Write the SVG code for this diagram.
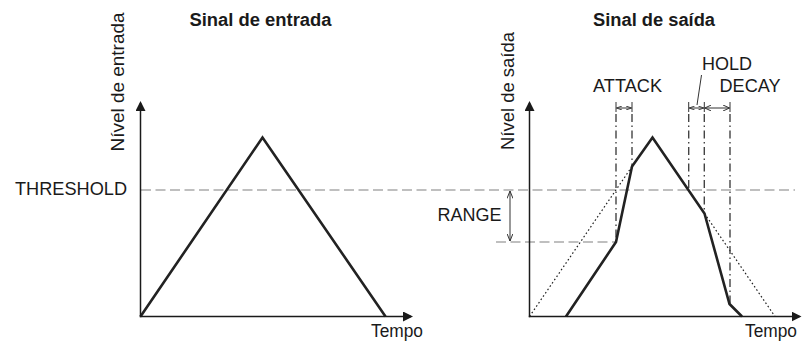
<svg xmlns="http://www.w3.org/2000/svg" width="805" height="342" viewBox="0 0 805 342">
<style>
text{font-family:"Liberation Sans",Arial,sans-serif;font-size:17.5px;fill:#1a1a1a}
.title{font-weight:bold}
.axis{stroke:#1a1a1a;stroke-width:1.5;fill:none}
.sig{stroke:#222;stroke-width:2.6;fill:none;stroke-linejoin:miter}
.dot{stroke:#222;stroke-width:1.2;fill:none;stroke-dasharray:1.6,2.4}
.thr{stroke:#aaa;stroke-width:1.5;fill:none;stroke-dasharray:10,4.5}
.dd{stroke:#444;stroke-width:1.4;fill:none;stroke-dasharray:8,3.5,1.5,3.5}
.thin{stroke:#333;stroke-width:1;fill:none}
</style>
<defs>
<marker id="ah" viewBox="0 0 10 10" refX="8" refY="5" markerWidth="10" markerHeight="10" markerUnits="userSpaceOnUse" orient="auto"><path d="M0,0 L10,5 L0,10 z" fill="#1a1a1a"/></marker>
<marker id="oa" viewBox="0 0 8 6" refX="7.5" refY="3" markerWidth="8" markerHeight="6" markerUnits="userSpaceOnUse" orient="auto-start-reverse"><path d="M0,0 L7.5,3 L0,6" fill="none" stroke="#333" stroke-width="1"/></marker>
<marker id="oas" viewBox="0 0 6 4" refX="5.5" refY="2" markerWidth="6" markerHeight="4" markerUnits="userSpaceOnUse" orient="auto-start-reverse"><path d="M0,0 L5.5,2 L0,4" fill="none" stroke="#333" stroke-width="0.9"/></marker>
<marker id="oam" viewBox="0 0 7 6" refX="6.5" refY="3" markerWidth="7" markerHeight="6" markerUnits="userSpaceOnUse" orient="auto-start-reverse"><path d="M0,0 L6.5,3 L0,6" fill="none" stroke="#333" stroke-width="1"/></marker>
</defs>

<g id="threshold-line">
<line class="thr" x1="141" y1="190" x2="795" y2="190"/>
</g>

<g id="input-chart">
<text class="title" x="260.5" y="26" text-anchor="middle" textLength="142" lengthAdjust="spacingAndGlyphs">Sinal de entrada</text>
<text transform="translate(124,82) rotate(-90)" text-anchor="middle" textLength="139" lengthAdjust="spacingAndGlyphs">Nível de entrada</text>
<text x="15" y="195" textLength="112" lengthAdjust="spacingAndGlyphs">THRESHOLD</text>
<text x="371" y="337" textLength="52" lengthAdjust="spacingAndGlyphs">Tempo</text>
<polyline class="sig" points="140.5,316.5 262.5,137.5 385.5,316.5"/>
</g>

<g id="output-chart">
<text class="title" x="654" y="26" text-anchor="middle" textLength="122" lengthAdjust="spacingAndGlyphs">Sinal de saída</text>
<text transform="translate(513.5,91) rotate(-90)" text-anchor="middle" textLength="118" lengthAdjust="spacingAndGlyphs">Nível de saída</text>
<text x="745" y="337" textLength="52" lengthAdjust="spacingAndGlyphs">Tempo</text>
<text x="437.5" y="221" textLength="64" lengthAdjust="spacingAndGlyphs">RANGE</text>
<text x="593" y="91.5" textLength="69" lengthAdjust="spacingAndGlyphs">ATTACK</text>
<text x="702" y="70" textLength="50" lengthAdjust="spacingAndGlyphs">HOLD</text>
<text x="719.5" y="91.5" textLength="61" lengthAdjust="spacingAndGlyphs">DECAY</text>
<line class="thr" x1="496" y1="242" x2="616" y2="242"/>
<line class="dot" x1="529.5" y1="316.5" x2="632" y2="166.5"/>
<line class="dot" x1="704.5" y1="213.5" x2="775" y2="316.5"/>
<line class="dd" x1="616" y1="114" x2="616" y2="242"/>
<line class="dd" x1="632" y1="114" x2="632" y2="166"/>
<line class="dd" x1="688.7" y1="114" x2="688.7" y2="190"/>
<line class="dd" x1="704.3" y1="114" x2="704.3" y2="213"/>
<line class="dd" x1="730" y1="114" x2="730" y2="304"/>
<polyline class="sig" points="566,316.5 616,242 632,166.5 652.5,137.5 704.5,213.5 729.5,304 742,316.5"/>
</g>

<g id="connectors">
<line class="axis" x1="140.5" y1="317.2" x2="140.5" y2="103" marker-end="url(#ah)"/>
<line class="axis" x1="139.8" y1="316.5" x2="411" y2="316.5" marker-end="url(#ah)"/>
<line class="axis" x1="529.5" y1="317.2" x2="529.5" y2="103" marker-end="url(#ah)"/>
<line class="axis" x1="528.8" y1="316.5" x2="799.5" y2="316.5" marker-end="url(#ah)"/>
<line class="thin" x1="510" y1="191" x2="510" y2="241" marker-start="url(#oa)" marker-end="url(#oa)"/>
<line class="thin" x1="616" y1="102" x2="616" y2="112"/>
<line class="thin" x1="632" y1="102" x2="632" y2="112"/>
<line class="thin" x1="688.7" y1="102" x2="688.7" y2="112"/>
<line class="thin" x1="704.3" y1="102" x2="704.3" y2="112"/>
<line class="thin" x1="730" y1="102" x2="730" y2="112"/>
<line class="thin" x1="616.5" y1="108" x2="631.5" y2="108" marker-start="url(#oas)" marker-end="url(#oas)"/>
<line class="thin" x1="689.2" y1="108" x2="703.8" y2="108" marker-start="url(#oas)" marker-end="url(#oas)"/>
<line class="thin" x1="704.8" y1="108" x2="729.5" y2="108" marker-start="url(#oam)" marker-end="url(#oam)"/>
<line class="thin" x1="697" y1="105" x2="701.5" y2="75"/>
</g>
</svg>
